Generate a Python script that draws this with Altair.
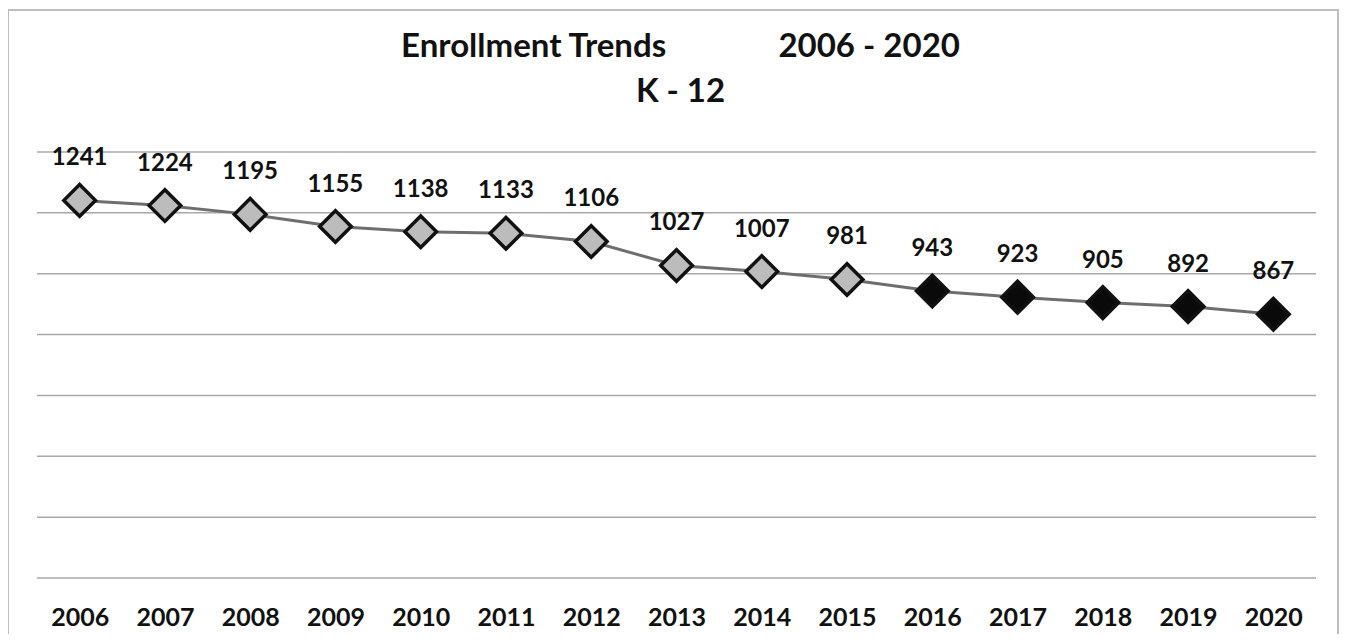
import altair as alt
import pandas as pd

years = [str(y) for y in range(2006, 2021)]
enrollment = [1241, 1224, 1195, 1155, 1138, 1133, 1106, 1027, 1007, 981,
              943, 923, 905, 892, 867]
group = ["past"] * 10 + ["recent"] * 5
grid_values = [0, 200, 400, 600, 800, 1000, 1200, 1400]

df = pd.DataFrame({"year": years, "value": enrollment, "group": group})
grid_df = pd.DataFrame({"g": grid_values})

FONT = "Lato"

x_enc = alt.X("year:N", sort=years,
              scale=alt.Scale(paddingInner=0, paddingOuter=0),
              axis=alt.Axis(title=None, domain=False, ticks=False, grid=False,
                            labelAngle=0, labelFont=FONT, labelFontSize=25,
                            labelFontWeight="bold", labelColor="#111111",
                            labelBaseline="alphabetic", labelPadding=47))
y_scale = alt.Scale(domain=[0, 1400])

base = alt.Chart(df)

frame = alt.Chart(grid_df).mark_rect(fill=None, stroke="#bdbdbd", strokeWidth=1.5).encode(
    x=alt.value(-29), x2=alt.value(1301), y=alt.value(-142), y2=alt.value(520)
)

grid = alt.Chart(grid_df).mark_rule(color="#a8a8a8", strokeWidth=1.5).encode(
    y=alt.Y("g:Q", scale=y_scale, axis=None)
)

line = base.mark_line(color="#6e6e6e", strokeWidth=3).encode(
    x=x_enc,
    y=alt.Y("value:Q", scale=y_scale, axis=None),
)

points = base.mark_point(shape="diamond", filled=True, size=1000, stroke="#111111",
                         strokeWidth=3.5, opacity=1).encode(
    x=alt.X("year:N", sort=years),
    y=alt.Y("value:Q", scale=y_scale),
    fill=alt.Fill("group:N", scale=alt.Scale(domain=["past", "recent"],
                                             range=["#bcbcbc", "#0a0a0a"]),
                  legend=None),
)

labels = base.mark_text(font=FONT, fontSize=24, fontWeight="bold", color="#111111",
                        baseline="alphabetic", dy=-35).encode(
    x=alt.X("year:N", sort=years),
    y=alt.Y("value:Q", scale=y_scale),
    text=alt.Text("value:Q"),
)

title_line1 = "Enrollment Trends" + "\u00a0" * 14 + "2006 - 2020"

chart = alt.layer(frame, grid, line, points, labels).properties(
    width=1279, height=426,
    title=alt.TitleParams(text=[title_line1, "K - 12"], font=FONT, fontSize=33,
                          fontWeight="bold", color="#111111", anchor="middle",
                          frame="group", lineHeight=45, offset=-100, dx=4),
    padding={"left": 29, "top": 144, "right": 23, "bottom": 56},
    autosize=alt.AutoSizeParams(type="none"),
    background="white",
).configure_view(stroke=None)

chart.save("out.html", embed_options={"renderer": "svg", "actions": False})
